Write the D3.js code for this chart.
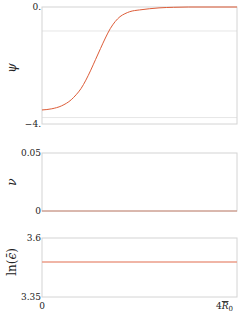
<!DOCTYPE html>
<html>
<head>
<meta charset="utf-8">
<script src="https://cdn.jsdelivr.net/npm/d3@7"></script>
<style>
  body { margin: 0; background: #fff; }
</style>
</head>
<body>
<svg id="chart" width="241" height="316"></svg>
<script>
"use strict";

// radial coordinate in units of R0
const rValues = [0, 0.2, 0.4, 0.6, 0.7, 0.8, 0.9, 1.0, 1.1, 1.2, 1.3, 1.4, 1.5, 1.6, 1.7, 1.8, 2.0, 2.2, 2.4, 2.7, 3.0, 4.0];
const psiValues = [-3.52, -3.48, -3.38, -3.17, -3.0, -2.79, -2.5, -2.16, -1.79, -1.42, -1.06, -0.74, -0.5, -0.33, -0.23, -0.16, -0.1, -0.06, -0.03, -0.01, 0, 0];
const nuR = [0, 4];
const nuValues = [0, 0];
const lnEpsR = [0, 4];
const lnEpsValues = [3.498, 3.498];

const psiTicks = [0, -4];
const psiTickLabels = ["0.", "\u22124."];
const psiGrid = [-0.82, -3.78];
const nuTicks = [0, 0.05];
const nuTickLabels = ["0", "0.05"];
const lnTicks = [3.35, 3.6];
const lnTickLabels = ["3.35", "3.6"];

const FONT = "'DejaVu Serif', serif";
const svg = d3.select("#chart");
const x = d3.scaleLinear().domain([0, 4]).range([42, 237]);

function panel(domain, yRange, ticks, labels, grid) {
    const y = d3.scaleLinear().domain(domain).range(yRange);
    const g = svg.append("g");
    grid.forEach(v => {
        g.append("line")
            .attr("x1", x(0)).attr("x2", x(4))
            .attr("y1", y(v)).attr("y2", y(v))
            .attr("stroke", "#e6e6e6").attr("stroke-width", 1);
    });
    g.append("rect")
        .attr("x", x(0)).attr("y", Math.min(...yRange))
        .attr("width", x(4) - x(0)).attr("height", Math.abs(yRange[1] - yRange[0]))
        .attr("fill", "none").attr("stroke", "#d4d4d4").attr("stroke-width", 1);
    ticks.forEach((v, i) => {
        g.append("text")
            .style("font-family", FONT)
            .attr("x", x(0) - 1).attr("y", y(v) + 3)
            .attr("text-anchor", "end").attr("font-size", 9).attr("fill", "#222")
            .text(labels[i]);
    });
    return y;
}

function curve(y, xs, ys, color, width) {
    svg.append("path")
        .datum(xs.map((r, i) => [r, ys[i]]))
        .attr("fill", "none").attr("stroke", color).attr("stroke-width", width)
        .attr("d", d3.line().x(d => x(d[0])).y(d => y(d[1])).curve(d3.curveMonotoneX));
}

const yPsi = panel([-4, 0], [124, 7], psiTicks, psiTickLabels, psiGrid);
curve(yPsi, rValues, psiValues, "#dd5c38", 1);

const yNu = panel([0, 0.05], [211, 153], nuTicks, nuTickLabels, []);
curve(yNu, nuR, nuValues, "#c98572", 1.2);

const yLn = panel([3.35, 3.6], [297, 238], lnTicks, lnTickLabels, []);
curve(yLn, lnEpsR, lnEpsValues, "#eb9d88", 1.5);

// axis titles
function ytitle(px, py, size) {
    return svg.append("text")
        .style("font-family", FONT)
        .attr("transform", `translate(${px},${py}) rotate(-90)`)
        .attr("text-anchor", "middle").attr("font-size", size).attr("fill", "#222");
}
ytitle(16, 68, 12).attr("font-style", "italic").text("\u03c8");
ytitle(16, 182, 12).attr("font-style", "italic").text("\u03bd");
const ln = ytitle(16, 262, 12);
ln.append("tspan").text("ln(");
ln.append("tspan").attr("font-style", "italic").text("\u03f5\u0304");
ln.append("tspan").text(")");

// x tick labels
svg.append("text")
    .style("font-family", FONT)
    .attr("x", x(0)).attr("y", 309).attr("fill", "#222")
    .attr("text-anchor", "middle").attr("font-size", 9).text("0");
const xr = svg.append("text")
    .style("font-family", FONT)
    .attr("x", x(4) - 4).attr("y", 309).attr("fill", "#222")
    .attr("text-anchor", "end").attr("font-size", 9);
xr.append("tspan").text("4");
xr.append("tspan").attr("font-style", "italic")
    .style("text-decoration", "overline").text("R");
xr.append("tspan").attr("font-size", 7).attr("dy", 2).text("0");
</script>
</body>
</html>
